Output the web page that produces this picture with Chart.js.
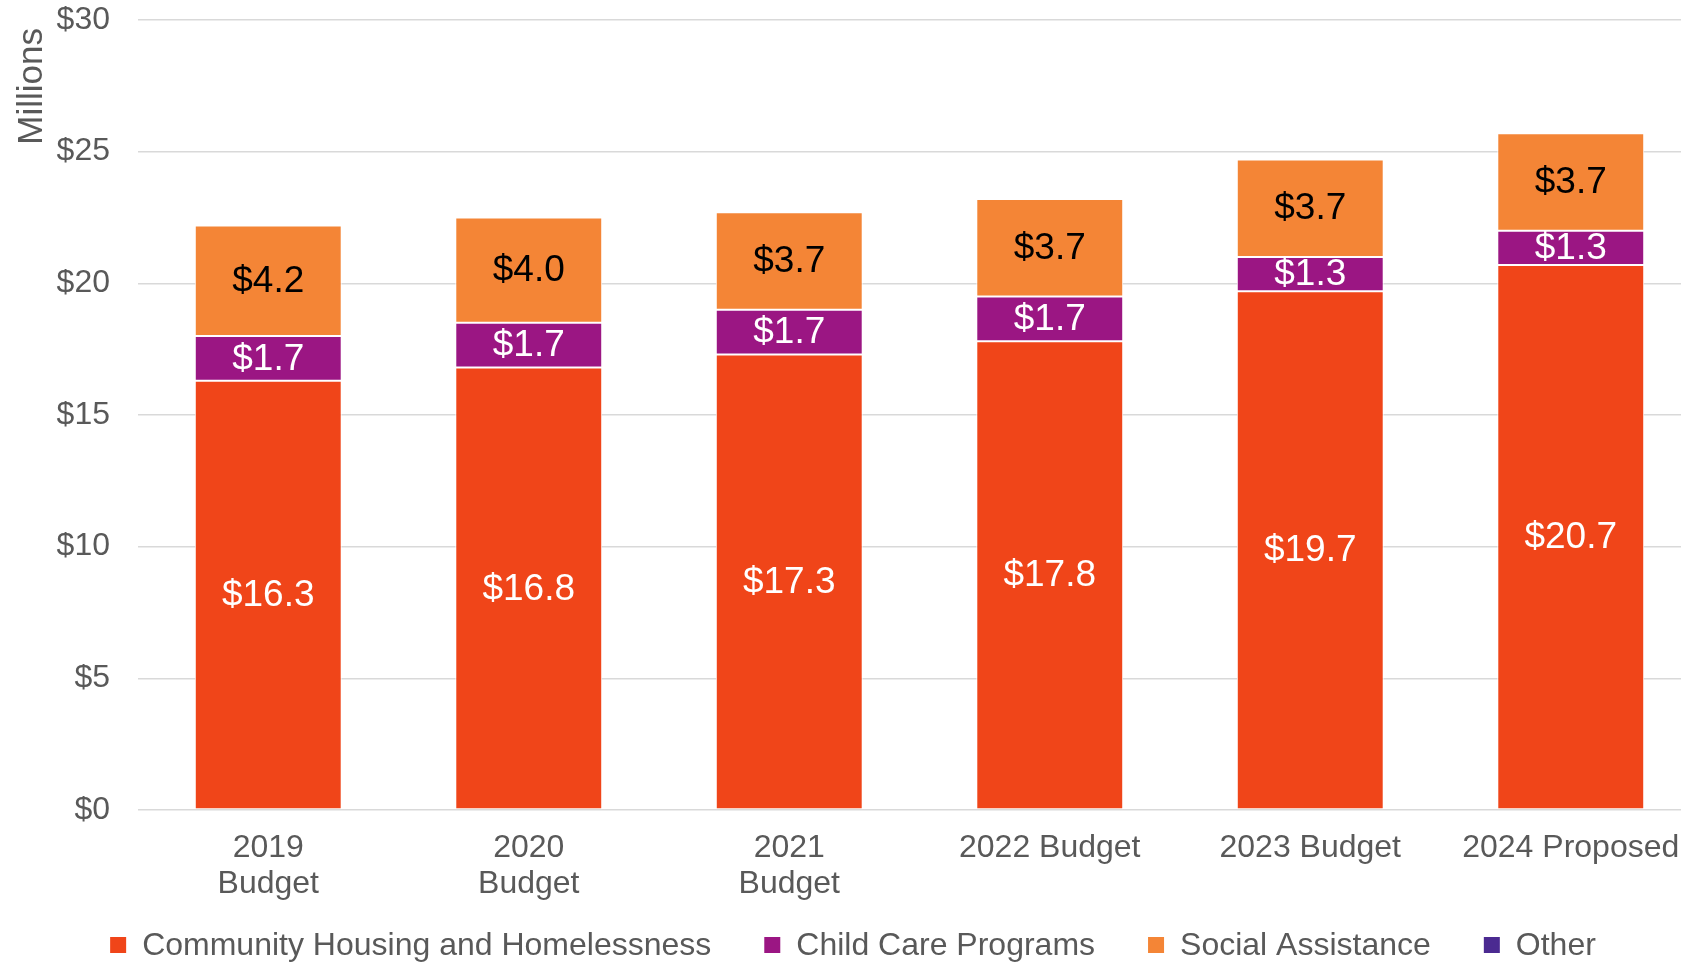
<!DOCTYPE html>
<html>
<head>
<meta charset="utf-8">
<style>
  html, body { margin: 0; padding: 0; background: #ffffff; overflow: hidden; }
  #wrap { width: 1701px; height: 963px; position: relative; }
</style>
<script src="https://cdn.jsdelivr.net/npm/chart.js@4.4.1/dist/chart.umd.min.js"></script>
</head>
<body>
<div id="wrap"><canvas id="budgetBar"></canvas></div>
<script>
const yearLabels = [
  ['2019', 'Budget'],
  ['2020', 'Budget'],
  ['2021', 'Budget'],
  '2022 Budget',
  '2023 Budget',
  '2024 Proposed'
];

const housingValues = [16.3, 16.8, 17.3, 17.8, 19.7, 20.7];
const childCareValues = [1.7, 1.7, 1.7, 1.7, 1.3, 1.3];
const socialAssistanceValues = [4.2, 4.0, 3.7, 3.7, 3.7, 3.7];
const otherValues = [null, null, null, null, null, null];

const seriesNames = ['Community Housing and Homelessness', 'Child Care Programs', 'Social Assistance', 'Other'];
const seriesColors = ['#f04519', '#9b1683', '#f48536', '#4b2a91'];
const labelColors = ['#ffffff', '#ffffff', '#000000', '#ffffff'];

const yTickValues = [0, 5, 10, 15, 20, 25, 30];
const yAxisTitle = 'Millions';

const fontFamily = '"Liberation Sans", Arial, sans-serif';
const textGrey = '#595959';

// Writes "$x.x" in the middle of every stacked segment.
const segmentLabels = {
  id: 'segmentLabels',
  afterDatasetsDraw(chart) {
    const { ctx } = chart;
    ctx.save();
    ctx.font = `37px ${fontFamily}`;
    ctx.textAlign = 'center';
    ctx.textBaseline = 'middle';

    chart.data.datasets.forEach((dataset, datasetIndex) => {
      const meta = chart.getDatasetMeta(datasetIndex);
      meta.data.forEach((bar, index) => {
        const value = dataset.data[index];
        if (value == null) {
          return;
        }
        ctx.fillStyle = labelColors[datasetIndex];
        ctx.fillText(`$${value.toFixed(1)}`, bar.x, (bar.y + bar.base) / 2 + 1);
      });
    });

    ctx.restore();
  }
};

// Rotated "Millions" caption sitting a little below the top gridline.
const axisCaption = {
  id: 'axisCaption',
  afterDraw(chart) {
    const { ctx, chartArea } = chart;
    ctx.save();
    ctx.translate(32, chartArea.top + 8);
    ctx.rotate(-Math.PI / 2);
    ctx.font = `35px ${fontFamily}`;
    ctx.fillStyle = textGrey;
    ctx.textAlign = 'right';
    ctx.textBaseline = 'middle';
    ctx.fillText(yAxisTitle, 0, 0);
    ctx.restore();
  }
};

// One-row legend along the bottom: square swatch, then the series name.
const bottomLegend = {
  id: 'bottomLegend',
  afterDraw(chart) {
    const { ctx } = chart;
    const box = 16;
    const textGap = 16;
    const itemGap = 53;
    const rowY = 945;

    ctx.save();
    ctx.font = `32px ${fontFamily}`;
    ctx.textBaseline = 'middle';
    ctx.textAlign = 'left';

    const items = chart.data.datasets.map((dataset) => ({
      text: dataset.label,
      color: dataset.backgroundColor,
      width: box + textGap + ctx.measureText(dataset.label).width
    }));
    const totalWidth = items.reduce((sum, item) => sum + item.width, 0) + itemGap * (items.length - 1);
    let x = (chart.width - totalWidth) / 2 + 2.5;

    items.forEach((item) => {
      ctx.fillStyle = item.color;
      ctx.fillRect(x, rowY - box / 2, box, box);
      ctx.fillStyle = textGrey;
      ctx.fillText(item.text, x + box + textGap, rowY + 1);
      x += item.width + itemGap;
    });

    ctx.restore();
  }
};

const buildDatasets = () => [housingValues, childCareValues, socialAssistanceValues, otherValues]
  .map((values, index) => ({
    label: seriesNames[index],
    data: values,
    backgroundColor: seriesColors[index],
    borderColor: '#ffffff',
    borderWidth: 1,
    borderSkipped: false,
    barPercentage: 0.564,
    categoryPercentage: 1
  }));

const budgetChart = new Chart(document.getElementById('budgetBar'), {
  type: 'bar',
  data: {
    labels: yearLabels,
    datasets: buildDatasets()
  },
  plugins: [segmentLabels, axisCaption, bottomLegend],
  options: {
    responsive: true,
    maintainAspectRatio: false,
    animation: false,
    layout: {
      padding: { top: 20, right: 0, bottom: 58, left: 0 }
    },
    plugins: {
      tooltip: { enabled: false },
      legend: { display: false }
    },
    scales: {
      x: {
        stacked: true,
        grid: { display: false, drawTicks: false },
        border: { display: false },
        ticks: {
          autoSkip: false,
          maxRotation: 0,
          padding: 20,
          color: textGrey,
          font: { family: fontFamily, size: 32, lineHeight: 1.13 }
        },
        afterFit: (scale) => {
          scale.height = 95;
        }
      },
      y: {
        stacked: true,
        min: 0,
        max: 30,
        afterBuildTicks: (scale) => {
          scale.ticks = yTickValues.map((value) => ({ value }));
        },
        grid: {
          color: '#d9d9d9',
          lineWidth: 1.5,
          drawTicks: true,
          tickLength: 28,
          tickColor: 'rgba(0, 0, 0, 0)'
        },
        border: { display: false },
        ticks: {
          padding: 0,
          color: textGrey,
          font: { family: fontFamily, size: 32 },
          callback: (value) => `$${value}`
        },
        afterFit: (scale) => {
          scale.width = 138;
        }
      }
    }
  }
});
</script>
</body>
</html>
